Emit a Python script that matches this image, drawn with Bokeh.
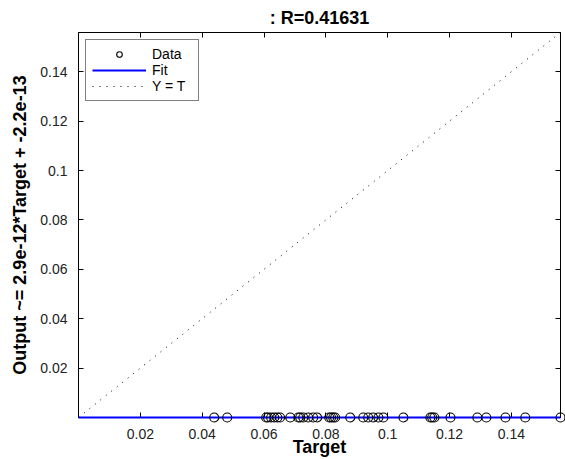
from bokeh.plotting import figure
from bokeh.models import (Range1d, FixedTicker, LinearAxis, Legend, LegendItem,
                          GlyphRenderer)
from bokeh.embed import file_html
from bokeh.resources import INLINE

# ---- data ----
targets = [0.0439, 0.0481, 0.0607, 0.0613, 0.0623, 0.0633, 0.0643, 0.0652,
           0.0685, 0.0711, 0.0717, 0.0727, 0.0743, 0.0759, 0.0772, 0.0811,
           0.0817, 0.0824, 0.0830, 0.0879, 0.0921, 0.0937, 0.0953, 0.0970,
           0.0986, 0.1051, 0.1138, 0.1144, 0.1151, 0.1203, 0.1290, 0.1319,
           0.1381, 0.1445, 0.1559]
outputs = [0.0] * len(targets)
fit_slope = 2.9e-12
fit_intercept = -2.2e-13
r_value = 0.41631
tick_values = [0.02, 0.04, 0.06, 0.08, 0.1, 0.12, 0.14]
tick_labels = ["0.02", "0.04", "0.06", "0.08", "0.1", "0.12", "0.14"]

lo = min(min(targets), min(outputs))
hi = max(max(targets), max(outputs))

FONT = "Liberation Sans"

p = figure(width=565, height=459, output_backend="svg", toolbar_location=None,
           x_range=Range1d(lo, hi), y_range=Range1d(lo, hi),
           min_border_left=78, min_border_right=5, min_border_top=32,
           min_border_bottom=40)
p.background_fill_color = "white"
p.border_fill_color = "white"
p.outline_line_color = "black"
p.outline_line_width = 1
p.grid.visible = False

p.title.text = ": R=%.5f" % r_value
p.title.align = "center"
p.title.text_font = FONT
p.title.text_font_size = "18px"
p.title.text_font_style = "bold"
p.title.text_color = "black"
p.title.offset = 0
p.title.standoff = 9

ticker = FixedTicker(ticks=tick_values)
overrides = {v: s for v, s in zip(tick_values, tick_labels)}

for ax in (p.xaxis[0], p.yaxis[0]):
    ax.ticker = ticker
    ax.major_label_overrides = overrides
    ax.major_tick_in = 5
    ax.major_tick_out = 0
    ax.minor_tick_line_color = None
    ax.axis_line_color = "black"
    ax.major_tick_line_color = "black"
    ax.major_label_text_font = FONT
    ax.major_label_text_font_size = "14px"
    ax.major_label_text_color = "#222222"
    ax.axis_label_text_font = FONT
    ax.axis_label_text_font_size = "18px"
    ax.axis_label_text_font_style = "bold"
    ax.axis_label_text_color = "black"

p.xaxis.axis_label = "Target"
p.yaxis.axis_label = "Output ~= %.1e*Target + %.1e" % (fit_slope, fit_intercept)
p.xaxis.major_label_standoff = 11
p.xaxis.axis_label_standoff = -5
p.yaxis.major_label_standoff = 11
p.yaxis.axis_label_standoff = 7

for side in ("above", "right"):
    ax = LinearAxis(ticker=ticker, major_label_overrides={v: "" for v in tick_values},
                    major_tick_in=5, major_tick_out=0, minor_tick_line_color=None,
                    major_label_standoff=0, major_label_text_font_size="1px",
                    axis_line_color="black", major_tick_line_color="black")
    p.add_layout(ax, side)

# Y = T reference line
r_yt = p.line([lo, hi], [lo, hi], line_color="black", line_width=1, line_dash="1 6")
# Fit line
fit_x = [lo, hi]
fit_y = [fit_slope * x + fit_intercept for x in fit_x]
r_fit = p.line(fit_x, fit_y, line_color="#0000ff", line_width=2, level="overlay")
# Data
r_data = p.scatter(targets, outputs, marker="circle", size=9, fill_color=None,
                   line_color="black", line_width=1.1, level="overlay")

for r in (r_fit, r_data):
    if "clip" in GlyphRenderer.properties():
        r.clip = False

legend = Legend(items=[LegendItem(label="Data", renderers=[r_data]),
                       LegendItem(label="Fit", renderers=[r_fit]),
                       LegendItem(label="Y = T", renderers=[r_yt])],
                location="top_left", orientation="vertical")
legend.border_line_color = "black"
legend.border_line_width = 1
legend.background_fill_color = "white"
legend.background_fill_alpha = 1
legend.label_text_font = FONT
legend.label_text_font_size = "14px"
legend.label_text_color = "black"
legend.padding = 6
legend.spacing = 0
legend.glyph_width = 54
legend.glyph_height = 14
legend.label_height = 14
legend.label_width = 40
legend.label_standoff = 6
legend.margin = 7
p.add_layout(legend, "center")

open("out.html", "w").write(file_html(p, INLINE))
